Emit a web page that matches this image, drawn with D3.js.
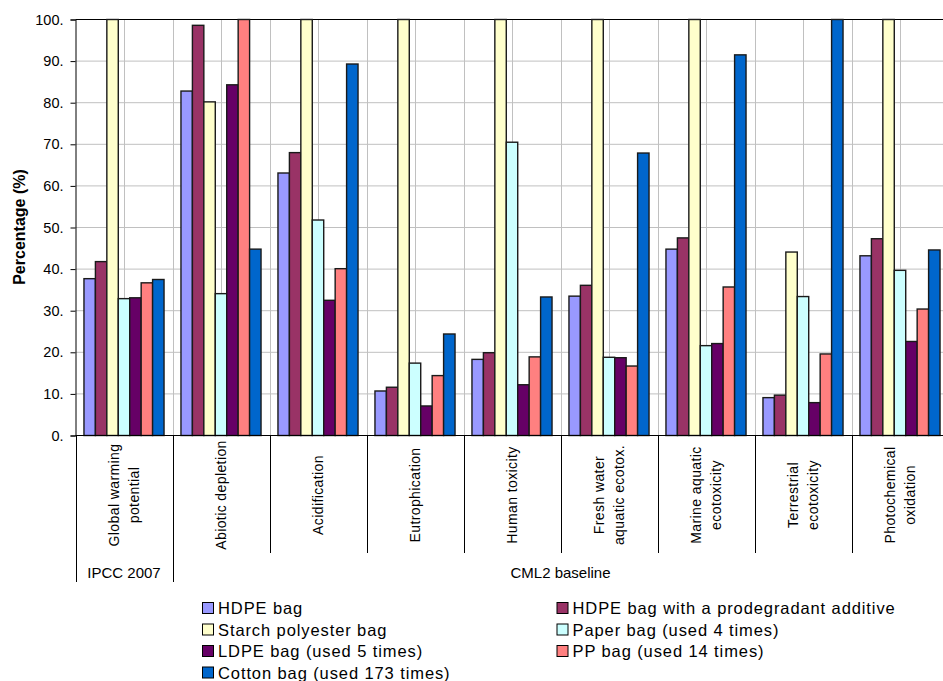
<!DOCTYPE html>
<html>
<head>
<meta charset="utf-8">
<script src="https://cdn.jsdelivr.net/npm/d3@7"></script>
<style>
  html, body { margin: 0; padding: 0; background: #fff; }
  svg { display: block; font-family: "Liberation Sans", Arial, sans-serif; }
</style>
</head>
<body>
<svg id="chart" width="943" height="681"></svg>
<script>
const categories = [
  ["Global warming", "potential"],
  ["Abiotic depletion"],
  ["Acidification"],
  ["Eutrophication"],
  ["Human toxicity"],
  ["Fresh water", "aquatic ecotox."],
  ["Marine aquatic", "ecotoxicity"],
  ["Terrestrial", "ecotoxicity"],
  ["Photochemical", "oxidation"]
];
const seriesNames = [
  "HDPE bag",
  "HDPE bag with a prodegradant additive",
  "Starch polyester bag",
  "Paper bag (used 4 times)",
  "LDPE bag (used 5 times)",
  "PP bag (used 14 times)",
  "Cotton bag (used 173 times)"
];
const seriesColors = ["#9999FF", "#993366", "#FFFFCC", "#CCFFFF", "#660066", "#FF8080", "#0066CC"];

const hdpe        = [37.7, 82.8, 63.1, 10.7, 18.3, 33.5, 44.8,  9.1, 43.2];
const hdpeProdeg  = [41.8, 98.6, 68.0, 11.6, 19.9, 36.1, 47.5,  9.7, 47.3];
const starch      = [100,  80.2, 100,  100,  100,  100,  100,  44.1, 100];
const paper       = [32.9, 34.1, 51.8, 17.4, 70.5, 18.8, 21.6, 33.4, 39.7];
const ldpe        = [33.1, 84.3, 32.5,  7.1, 12.2, 18.7, 22.1,  7.9, 22.6];
const pp          = [36.7, 100,  40.1, 14.4, 18.9, 16.7, 35.7, 19.6, 30.4];
const cotton      = [37.5, 44.8, 89.3, 24.4, 33.3, 67.9, 91.5, 100,  44.6];
const seriesValues = [hdpe, hdpeProdeg, starch, paper, ldpe, pp, cotton];

const yTicks = [0, 10, 20, 30, 40, 50, 60, 70, 80, 90, 100];
const groups = [
  { label: "IPCC 2007", from: 0, to: 0 },
  { label: "CML2 baseline", from: 1, to: 8 }
];
const yTitle = "Percentage (%)";

// layout
const plotLeft = 75.5, plotTop = 19.5, plotBottom = 435.5;
const catW = 97;
const plotRight = plotLeft + catW * categories.length;

const svg = d3.select("#chart");

const x = d3.scaleBand()
  .domain(d3.range(categories.length))
  .range([plotLeft, plotRight])
  .padding(0);
const xs = d3.scaleBand()
  .domain(d3.range(seriesNames.length))
  .range([0, x.bandwidth()])
  .paddingInner(0)
  .paddingOuter(0.74);
const y = d3.scaleLinear().domain([0, 100]).range([plotBottom, plotTop]);

// horizontal gridlines
svg.append("g").selectAll("line")
  .data(yTicks.filter(d => d > 0 && d < 100))
  .join("line")
  .attr("x1", plotLeft).attr("x2", plotRight)
  .attr("y1", d => y(d)).attr("y2", d => y(d))
  .attr("stroke", "#c0c0c0").attr("stroke-width", 1);

// vertical gridlines every half category
const halfPositions = d3.range(1, categories.length * 2).map(i => plotLeft + i * catW / 2);
svg.append("g").selectAll("line")
  .data(halfPositions)
  .join("line")
  .attr("x1", d => Math.round(d) + 0.5).attr("x2", d => Math.round(d) + 0.5)
  .attr("y1", plotTop).attr("y2", plotBottom)
  .attr("stroke", "#c0c0c0").attr("stroke-width", 1);

// top border
svg.append("line")
  .attr("x1", plotLeft).attr("x2", plotRight)
  .attr("y1", plotTop).attr("y2", plotTop)
  .attr("stroke", "#000").attr("stroke-width", 1);

// bars
const barData = [];
categories.forEach((c, ci) => {
  seriesValues.forEach((vals, si) => {
    barData.push({ ci, si, v: vals[ci] });
  });
});
svg.append("g").selectAll("rect")
  .data(barData)
  .join("rect")
  .attr("x", d => x(d.ci) + xs(d.si))
  .attr("y", d => y(d.v))
  .attr("width", xs.bandwidth())
  .attr("height", d => y(0) - y(d.v))
  .attr("fill", d => seriesColors[d.si])
  .attr("stroke", "#1a1a1a")
  .attr("stroke-width", 1.4);

// y axis
const yAxis = d3.axisLeft(y)
  .tickValues(yTicks)
  .tickSize(5)
  .tickPadding(7)
  .tickFormat(d => d + ".");
const ya = svg.append("g")
  .attr("transform", `translate(${plotLeft},0)`)
  .call(yAxis);
ya.select(".domain").attr("stroke", "#000");
ya.selectAll(".tick line").attr("stroke", "#000");
ya.selectAll(".tick text")
  .attr("font-size", "14.5px")
  .attr("fill", "#000")
  .attr("font-family", "'Liberation Sans', Arial, sans-serif");

// x axis line
svg.append("line")
  .attr("x1", plotLeft).attr("x2", plotRight)
  .attr("y1", plotBottom).attr("y2", plotBottom)
  .attr("stroke", "#000");

// category separators below axis
const boundaries = d3.range(0, categories.length + 1);
svg.append("g").selectAll("line")
  .data(boundaries)
  .join("line")
  .attr("x1", d => Math.round(plotLeft + d * catW) + 0.5)
  .attr("x2", d => Math.round(plotLeft + d * catW) + 0.5)
  .attr("y1", plotBottom)
  .attr("y2", d => groups.some(g => g.from === d || g.to + 1 === d) ? 582 : 553)
  .attr("stroke", "#000");

// category labels (rotated)
const catLabels = svg.append("g").selectAll("text")
  .data(categories)
  .join("text")
  .attr("transform", (d, i) => `translate(${x(i) + x.bandwidth() / 2},495) rotate(-90)`)
  .attr("text-anchor", "middle")
  .attr("font-size", "14px")
  .attr("letter-spacing", "0.4px")
  .attr("fill", "#000");
catLabels.each(function(lines) {
  const t = d3.select(this);
  lines.forEach((ln, k) => {
    t.append("tspan")
      .attr("x", 0)
      .attr("y", (k - (lines.length - 1) / 2) * 20)
      .attr("dy", "0.35em")
      .text(ln);
  });
});

// group labels
svg.append("g").selectAll("text")
  .data(groups)
  .join("text")
  .attr("x", g => (x(g.from) + x(g.to) + x.bandwidth()) / 2)
  .attr("y", 578)
  .attr("text-anchor", "middle")
  .attr("font-size", "15px")
  .attr("fill", "#000")
  .text(g => g.label);

// y title
svg.append("text")
  .attr("transform", "translate(25,227) rotate(-90)")
  .attr("text-anchor", "middle")
  .attr("font-size", "16px")
  .attr("font-weight", "bold")
  .attr("fill", "#000")
  .text(yTitle);

// legend
const legendOrder = [0, 1, 2, 3, 4, 5, 6];
const legend = svg.append("g").selectAll("g")
  .data(legendOrder)
  .join("g")
  .attr("transform", (d, i) => {
    const col = i % 2, row = Math.floor(i / 2);
    return `translate(${col === 0 ? 202 : 556.5},${614 + row * 21.5})`;
  });
legend.append("rect")
  .attr("x", 0.5).attr("y", -11.5)
  .attr("width", 11).attr("height", 11)
  .attr("fill", d => seriesColors[d])
  .attr("stroke", "#000");
legend.append("text")
  .attr("x", 16)
  .attr("y", 0)
  .attr("font-size", "16.5px")
  .attr("letter-spacing", "0.9px")
  .attr("fill", "#000")
  .text(d => seriesNames[d]);
</script>
</body>
</html>
